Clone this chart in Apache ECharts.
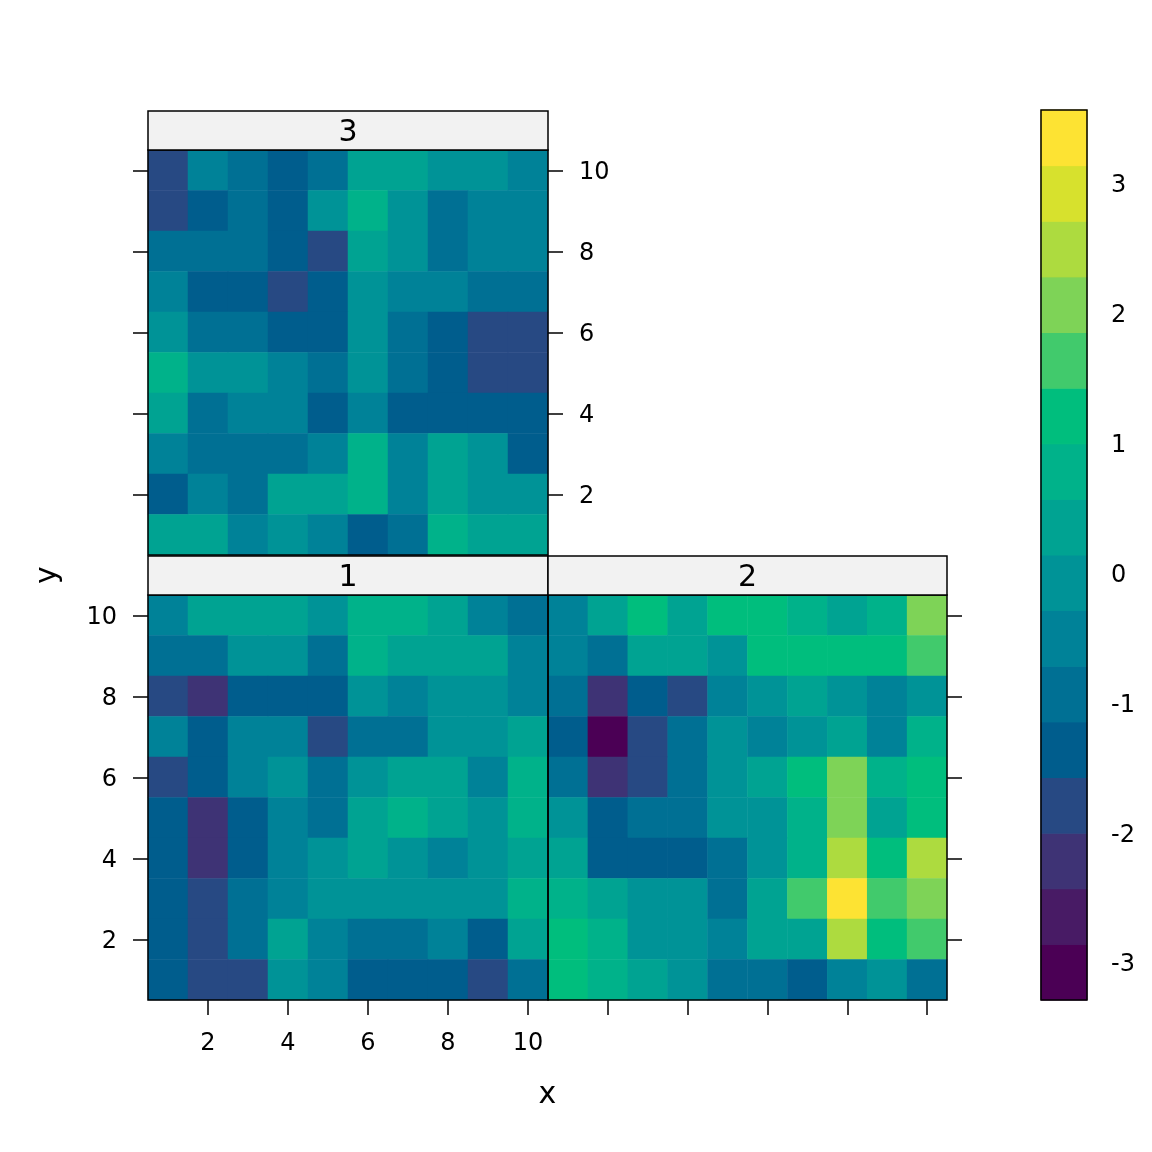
<!DOCTYPE html>
<html><head><meta charset="utf-8">
<script src="https://cdn.jsdelivr.net/npm/echarts@6/dist/echarts.min.js"></script>
<style>html,body{margin:0;padding:0;background:#fff}#c{width:1152px;height:1152px}</style>
</head><body><div id="c"></div>
<script>
// ---------------- data ----------------
const xCategories = ['1','2','3','4','5','6','7','8','9','10'];
const yCategories = ['1','2','3','4','5','6','7','8','9','10'];
const panelNames = ['1', '2', '3'];
// each panel: rows listed from y = 10 (top) down to y = 1 (bottom), columns x = 1..10
const panel1 = [
  [-0.51, 0.35, 0.35, 0.35, -0.08, 0.78, 0.78, 0.35, -0.51, -0.94],
  [-0.94, -0.94, -0.08, -0.08, -0.94, 0.78, 0.35, 0.35, 0.35, -0.51],
  [-1.79, -2.22, -1.37, -1.37, -1.37, -0.08, -0.51, -0.08, -0.08, -0.51],
  [-0.51, -1.37, -0.51, -0.51, -1.79, -0.94, -0.94, -0.08, -0.08, 0.35],
  [-1.79, -1.37, -0.51, -0.08, -0.94, -0.08, 0.35, 0.35, -0.51, 0.78],
  [-1.37, -2.22, -1.37, -0.51, -0.94, 0.35, 0.78, 0.35, -0.08, 0.78],
  [-1.37, -2.22, -1.37, -0.51, -0.08, 0.35, -0.08, -0.51, -0.08, 0.35],
  [-1.37, -1.79, -0.94, -0.51, -0.08, -0.08, -0.08, -0.08, -0.08, 0.78],
  [-1.37, -1.79, -0.94, 0.35, -0.51, -0.94, -0.94, -0.51, -1.37, 0.35],
  [-1.37, -1.79, -1.79, -0.08, -0.51, -1.37, -1.37, -1.37, -1.79, -0.94]
];
const panel2 = [
  [-0.51, 0.35, 1.21, 0.35, 1.21, 1.21, 0.78, 0.35, 0.78, 2.06],
  [-0.51, -0.94, 0.35, 0.35, -0.08, 1.21, 1.21, 1.21, 1.21, 1.64],
  [-0.94, -2.22, -1.37, -1.79, -0.51, -0.08, 0.35, -0.08, -0.51, -0.08],
  [-1.37, -3.295, -1.79, -0.94, -0.08, -0.51, -0.08, 0.35, -0.51, 0.78],
  [-0.94, -2.22, -1.79, -0.94, -0.08, 0.35, 1.21, 2.06, 0.78, 1.21],
  [-0.08, -1.37, -0.94, -0.94, -0.08, -0.08, 0.78, 2.06, 0.35, 1.21],
  [0.35, -1.37, -1.37, -1.37, -0.94, -0.08, 0.78, 2.49, 1.21, 2.49],
  [0.78, 0.35, -0.08, -0.08, -0.94, 0.35, 1.64, 3.558, 1.64, 2.06],
  [1.21, 0.78, -0.08, -0.08, -0.51, 0.35, 0.35, 2.49, 1.21, 1.64],
  [1.21, 0.78, 0.35, -0.08, -0.94, -0.94, -1.37, -0.51, -0.08, -0.94]
];
const panel3 = [
  [-1.79, -0.51, -0.94, -1.37, -0.94, 0.35, 0.35, -0.08, -0.08, -0.51],
  [-1.79, -1.37, -0.94, -1.37, -0.08, 0.78, -0.08, -0.94, -0.51, -0.51],
  [-0.94, -0.94, -0.94, -1.37, -1.79, 0.35, -0.08, -0.94, -0.51, -0.51],
  [-0.51, -1.37, -1.37, -1.79, -1.37, -0.08, -0.51, -0.51, -0.94, -0.94],
  [-0.08, -0.94, -0.94, -1.37, -1.37, -0.08, -0.94, -1.37, -1.79, -1.79],
  [0.78, -0.08, -0.08, -0.51, -0.94, -0.08, -0.94, -1.37, -1.79, -1.79],
  [0.35, -0.94, -0.51, -0.51, -1.37, -0.51, -1.37, -1.37, -1.37, -1.37],
  [-0.51, -0.94, -0.94, -0.94, -0.51, 0.78, -0.51, 0.35, -0.08, -1.37],
  [-1.37, -0.51, -0.94, 0.35, 0.35, 0.78, -0.51, 0.35, -0.08, -0.08],
  [0.35, 0.35, -0.51, -0.08, -0.51, -1.37, -0.94, 0.78, 0.35, 0.35]
];
const colorbarTicks = [-3, -2, -1, 0, 1, 2, 3];
const zRange = [-3.295, 3.558];
const nLevels = 16;

// ---------------- palette: hcl.colors(16, "viridis") ----------------
function hclHex(L, C, H) {
  const Xn = 95.047, Yn = 100.0, Zn = 108.883;
  const h = H * Math.PI / 180;
  const U = C * Math.cos(h), V = C * Math.sin(h);
  let X = 0, Y = 0, Z = 0;
  if (L > 0) {
    Y = Yn * (L > 7.999592 ? Math.pow((L + 16) / 116, 3) : L / 903.3);
    const t = Xn + Yn + Zn;
    const x = Xn / t, y = Yn / t;
    const un = 2 * x / (6 * y - x + 1.5), vn = 4.5 * y / (6 * y - x + 1.5);
    const Q = U / (13 * L) + un, R = V / (13 * L) + vn;
    X = 9.0 * Y * Q / (4.0 * R);
    Z = -X / 3 - 5 * Y + 3 * Y / R;
  }
  X /= 100; Y /= 100; Z /= 100;
  const lin = [
    3.240479 * X - 1.537150 * Y - 0.498535 * Z,
    -0.969256 * X + 1.875992 * Y + 0.041556 * Z,
    0.055648 * X - 0.204043 * Y + 1.057311 * Z
  ];
  return '#' + lin.map(v => {
    let g = v > 0.00304 ? 1.055 * Math.pow(v, 1 / 2.4) - 0.055 : 12.92 * v;
    g = Math.max(0, Math.min(1, g));
    return Math.round(g * 255).toString(16).padStart(2, '0');
  }).join('');
}
const palette = [];
for (let k = 0; k < nLevels; k++) {
  const i = 1 - k / (nLevels - 1);
  const H = 75 - (75 - 300) * i;
  const C = 95 - (95 - 40) * Math.pow(i, 1.0);
  const L = 90 - (90 - 15) * Math.pow(i, 1.1);
  palette.push(hclHex(L, C, H));
}
const breaks = [];
for (let k = 0; k <= nLevels; k++) breaks.push(zRange[0] + (zRange[1] - zRange[0]) * k / nLevels);

// ---------------- build ----------------
function toHeat(rows) {
  const out = [];
  rows.forEach((row, r) => row.forEach((v, c) => out.push([c, rows.length - 1 - r, v])));
  return out;
}
const pieces = palette.map((col, k) => (k === nLevels - 1
  ? { gte: breaks[k], lte: breaks[k + 1] + 1e-9, color: col }
  : { gte: breaks[k], lt: breaks[k + 1], color: col }));
const bandData = palette.map((col, k) => [0, breaks[k], breaks[k + 1], k]);

const FONT = 'DejaVu Sans';
const evenOnly = (idx) => idx % 2 === 1;
const tickStyle = { color: '#000', width: 1.5 };
const yLabel = { interval: evenOnly, margin: 31, color: '#000', fontSize: 24, fontFamily: FONT, verticalAlign: 'top', lineHeight: 6 };
function catAxis(gridIndex, position, labels, extra) {
  return Object.assign({
    gridIndex, type: 'category', data: xCategories, position,
    axisLine: { show: false },
    axisTick: { show: true, alignWithLabel: true, interval: evenOnly, length: 15, inside: false, lineStyle: tickStyle },
    axisLabel: Object.assign({ show: labels }, yLabel),
    splitLine: { show: false }
  }, extra || {});
}

const P = { l: 148, r: 548, r2: 947, top3: 150, bot3: 555, top1: 595, bot1: 1000, stripH: 39 };
const frameStyle = { fill: null, stroke: '#000', lineWidth: 1.5 };
const stripStyle = { fill: '#F2F2F2', stroke: '#000', lineWidth: 1.5 };
const bigFont = '30px "DejaVu Sans"';

const option = {
  backgroundColor: '#fff',
  animation: false,
  grid: [
    { left: P.l, top: P.top1, width: P.r - P.l, height: P.bot1 - P.top1 },
    { left: P.r, top: P.top1, width: P.r2 - P.r, height: P.bot1 - P.top1 },
    { left: P.l, top: P.top3, width: P.r - P.l, height: P.bot3 - P.top3 },
    { left: 1041, top: 110, width: 46, height: 890 }
  ],
  xAxis: [
    catAxis(0, 'bottom', true, { axisLabel: { show: true, interval: evenOnly, margin: 32, color: '#000', fontSize: 24, fontFamily: FONT } }),
    catAxis(1, 'bottom', false),
    catAxis(2, 'top', false),
    { gridIndex: 3, type: 'value', min: 0, max: 1, show: false }
  ],
  yAxis: [
    catAxis(0, 'left', true, { data: yCategories }),
    catAxis(1, 'right', false, { data: yCategories }),
    catAxis(2, 'left', false, { data: yCategories }),
    catAxis(2, 'right', true, { data: yCategories }),
    {
      gridIndex: 3, type: 'value', min: zRange[0], max: zRange[1], position: 'right',
      axisLine: { show: false }, splitLine: { show: false },
      axisTick: { show: true, length: 13, lineStyle: tickStyle, customValues: colorbarTicks },
      axisLabel: { show: true, margin: 24, color: '#000', fontSize: 24, fontFamily: FONT, verticalAlign: 'top', lineHeight: 7, customValues: colorbarTicks }
    }
  ],
  visualMap: {
    type: 'piecewise', show: false, dimension: 2, seriesIndex: [0, 1, 2], pieces
  },
  series: [
    { type: 'heatmap', xAxisIndex: 0, yAxisIndex: 0, data: toHeat(panel1), itemStyle: { borderWidth: 0 }, emphasis: { disabled: true }, progressive: 0 },
    { type: 'heatmap', xAxisIndex: 1, yAxisIndex: 1, data: toHeat(panel2), itemStyle: { borderWidth: 0 }, emphasis: { disabled: true }, progressive: 0 },
    { type: 'heatmap', xAxisIndex: 2, yAxisIndex: 2, data: toHeat(panel3), itemStyle: { borderWidth: 0 }, emphasis: { disabled: true }, progressive: 0 },
    {
      type: 'custom', xAxisIndex: 3, yAxisIndex: 4, data: bandData, encode: { x: 0, y: [1, 2] }, silent: true,
      renderItem: function (params, api) {
        const p0 = api.coord([0, api.value(1)]);
        const p1 = api.coord([1, api.value(2)]);
        const col = palette[api.value(3)];
        return { type: 'rect', shape: { x: p0[0], y: p1[1], width: p1[0] - p0[0], height: p0[1] - p1[1] },
          style: { fill: col, stroke: col, lineWidth: 1 } };
      }
    }
  ],
  graphic: [
    { type: 'rect', z: 100, silent: true, shape: { x: P.l, y: P.top1, width: P.r - P.l, height: P.bot1 - P.top1 }, style: frameStyle },
    { type: 'rect', z: 100, silent: true, shape: { x: P.r, y: P.top1, width: P.r2 - P.r, height: P.bot1 - P.top1 }, style: frameStyle },
    { type: 'rect', z: 100, silent: true, shape: { x: P.l, y: P.top3, width: P.r - P.l, height: P.bot3 - P.top3 }, style: frameStyle },
    { type: 'rect', z: 100, silent: true, shape: { x: 1041, y: 110, width: 46, height: 890 }, style: frameStyle },
    { type: 'rect', z: 100, silent: true, shape: { x: P.l, y: P.top1 - P.stripH, width: P.r - P.l, height: P.stripH }, style: stripStyle },
    { type: 'rect', z: 100, silent: true, shape: { x: P.r, y: P.top1 - P.stripH, width: P.r2 - P.r, height: P.stripH }, style: stripStyle },
    { type: 'rect', z: 100, silent: true, shape: { x: P.l, y: P.top3 - P.stripH, width: P.r - P.l, height: P.stripH }, style: stripStyle },
    { type: 'text', z: 101, silent: true, x: (P.l + P.r) / 2, y: P.top1 - P.stripH / 2 + 3, style: { text: panelNames[0], fill: '#000', font: bigFont, align: 'center', verticalAlign: 'middle' } },
    { type: 'text', z: 101, silent: true, x: (P.r + P.r2) / 2, y: P.top1 - P.stripH / 2 + 3, style: { text: panelNames[1], fill: '#000', font: bigFont, align: 'center', verticalAlign: 'middle' } },
    { type: 'text', z: 101, silent: true, x: (P.l + P.r) / 2, y: P.top3 - P.stripH / 2 + 3, style: { text: panelNames[2], fill: '#000', font: bigFont, align: 'center', verticalAlign: 'middle' } },
    { type: 'text', z: 101, silent: true, x: (P.l + P.r2) / 2, y: 1095, style: { text: 'x', fill: '#000', font: bigFont, align: 'center', verticalAlign: 'middle' } },
    { type: 'text', z: 101, silent: true, x: 48, y: (P.top3 + P.bot1) / 2, rotation: Math.PI / 2, style: { text: 'y', fill: '#000', font: bigFont, align: 'center', verticalAlign: 'middle' } }
  ]
};
const chart = echarts.init(document.getElementById('c'), null, { renderer: 'canvas' });
chart.setOption(option);
</script>
</body></html>
